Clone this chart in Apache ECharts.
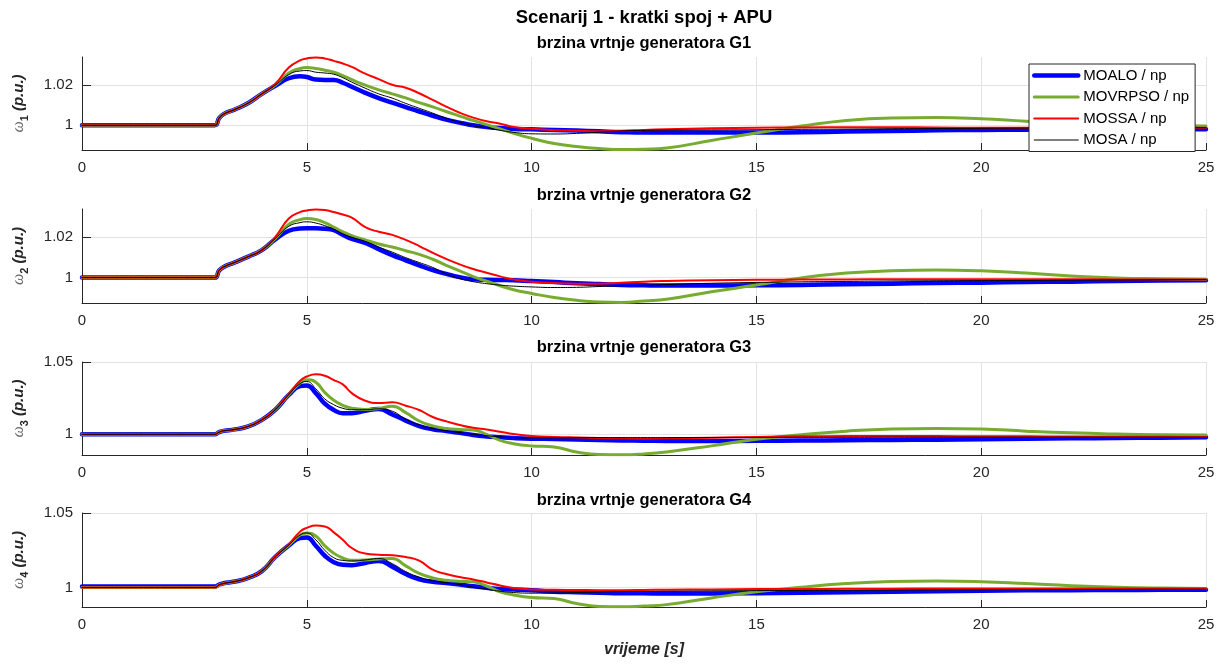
<!DOCTYPE html>
<html>
<head>
<meta charset="utf-8">
<script src="https://cdn.jsdelivr.net/npm/echarts@6/dist/echarts.min.js"></script>
<style>
html,body{margin:0;padding:0;background:#fff;}
#chart{width:1222px;height:664px;}
</style>
</head>
<body>
<div id="chart"></div>
<script>
// ---------------- data ----------------
const time = [0, 2.95, 3.05, 3.15, 3.4, 3.7, 4.0, 4.3, 4.6, 4.85, 5.0, 5.2, 5.4, 5.6, 5.8, 6.0,
  6.3, 6.6, 6.9, 7.2, 7.5, 7.8, 8.1, 8.4, 8.7, 9.0, 9.3, 9.6, 10.0, 10.5, 11, 11.5,
  12, 12.5, 13, 14, 15, 16, 17, 18, 19, 20, 21, 22, 23, 24, 25];

const methods = ['MOALO / np', 'MOVRPSO / np', 'MOSSA / np', 'MOSA / np'];

// Generator G1
const w1_moalo = [1.0,1.0,1.0035,1.0055,1.0078,1.0110,1.0155,1.0195, 1.0232,1.0242,1.0238,1.0226,1.0224,1.0224,1.0210,1.0190,
  1.0160,1.0134,1.0112,1.0090,1.0068,1.0047,1.0028,1.0013, 1.0000,0.9992,0.9986,0.9982,0.9980,0.9977,0.9974,0.9970,
  0.9966,0.9964,0.9964,0.9964,0.9964,0.9966,0.9969,0.9972, 0.9975,0.9977,0.9978,0.9979,0.9980,0.9980,0.9980];
const w1_movrpso = [1.0,1.0,1.0035,1.0055,1.0078,1.0110,1.0155,1.0198, 1.0258,1.0280,1.0285,1.0280,1.0272,1.0262,1.0245,1.0225,
  1.0198,1.0175,1.0155,1.0135,1.0112,1.0091,1.0068,1.0045, 1.0024,1.0003,0.9982,0.9960,0.9936,0.9910,0.9895,0.9885,
  0.9880,0.9882,0.9888,0.9925,0.9962,0.9996,1.0024,1.0036, 1.0038,1.0032,1.0020,1.0010,1.0003,0.9999,0.9997];
const w1_mossa = [1.0,1.0,1.0035,1.0055,1.0078,1.0110,1.0155,1.0205, 1.0285,1.0320,1.0330,1.0335,1.0330,1.0318,1.0305,1.0288,
  1.0255,1.0228,1.0200,1.0185,1.0158,1.0125,1.0092,1.0062, 1.0038,1.0020,1.0008,0.9992,0.9983,0.9976,0.9973,0.9971,
  0.9973,0.9977,0.9980,0.9985,0.9988,0.9989,0.9990,0.9990, 0.9989,0.9988,0.9988,0.9988,0.9988,0.9988,0.9988];
const w1_mosa = [1.0,1.0,1.0035,1.0055,1.0078,1.0110,1.0155,1.0198, 1.0250,1.0268,1.0270,1.0262,1.0258,1.0252,1.0235,1.0213,
  1.0183,1.0155,1.0134,1.0108,1.0084,1.0060,1.0035,1.0015, 0.9998,0.9988,0.9975,0.9965,0.9958,0.9957,0.9960,0.9966,
  0.9972,0.9975,0.9976,0.9977,0.9978,0.9980,0.9981,0.9983, 0.9984,0.9985,0.9986,0.9987,0.9987,0.9988,0.9988];

// Generator G2
const w2_moalo = [1.0,1.0,1.0035,1.0052,1.0075,1.0103,1.0135,1.0188, 1.0230,1.0241,1.0242,1.0242,1.0240,1.0233,1.0210,1.0190,
  1.0170,1.0140,1.0110,1.0085,1.0060,1.0037,1.0018,1.0002, 0.9992,0.9989,0.9988,0.9987,0.9983,0.9978,0.9972,0.9968,
  0.9964,0.9962,0.9961,0.9961,0.9962,0.9964,0.9967,0.9970, 0.9973,0.9975,0.9978,0.9980,0.9983,0.9985,0.9987];
const w2_movrpso = [1.0,1.0,1.0035,1.0052,1.0075,1.0103,1.0135,1.0192, 1.0262,1.0285,1.0290,1.0285,1.0270,1.0248,1.0225,1.0206,
  1.0185,1.0165,1.0150,1.0132,1.0114,1.0090,1.0060,1.0033, 1.0005,0.9982,0.9960,0.9940,0.9922,0.9902,0.9888,0.9880,
  0.9878,0.9885,0.9893,0.9930,0.9963,0.9998,1.0022,1.0034, 1.0037,1.0033,1.0022,1.0008,0.9998,0.9994,0.9992];
const w2_mossa = [1.0,1.0,1.0035,1.0052,1.0075,1.0103,1.0135,1.0200, 1.0290,1.0322,1.0330,1.0335,1.0332,1.0322,1.0310,1.0295,
  1.0248,1.0225,1.0210,1.0185,1.0155,1.0122,1.0092,1.0065, 1.0042,1.0024,1.0006,0.9990,0.9980,0.9973,0.9970,0.9970,
  0.9975,0.9980,0.9983,0.9987,0.9989,0.9990,0.9991,0.9992, 0.9992,0.9992,0.9992,0.9992,0.9991,0.9991,0.9990];
const w2_mosa = [1.0,1.0,1.0035,1.0052,1.0075,1.0103,1.0135,1.0192, 1.0252,1.0270,1.0274,1.0268,1.0255,1.0238,1.0215,1.0198,
  1.0178,1.0150,1.0125,1.0098,1.0074,1.0050,1.0018,0.9995, 0.9980,0.9970,0.9963,0.9958,0.9954,0.9951,0.9952,0.9956,
  0.9960,0.9962,0.9966,0.9972,0.9976,0.9979,0.9981,0.9983, 0.9984,0.9985,0.9986,0.9987,0.9988,0.9989,0.9990];

// Generator G3
const w3_moalo = [1.0,1.0,1.0015,1.0024,1.0034,1.0055,1.0100,1.0170, 1.0272,1.0333,1.0338,1.0285,1.0212,1.0168,1.0146,1.0146,
  1.0162,1.0175,1.0138,1.0095,1.0056,1.0035,1.0023,1.0010, 0.9995,0.9985,0.9979,0.9974,0.9970,0.9968,0.9965,0.9961,
  0.9958,0.9956,0.9954,0.9954,0.9955,0.9957,0.9959,0.9961, 0.9963,0.9966,0.9969,0.9972,0.9975,0.9977,0.9979];
const w3_movrpso = [1.0,1.0,1.0015,1.0024,1.0034,1.0055,1.0100,1.0170, 1.0276,1.0355,1.0378,1.0360,1.0290,1.0235,1.0200,1.0180,
  1.0172,1.0178,1.0194,1.0150,1.0092,1.0058,1.0040,1.0033, 1.0030,1.0000,0.9958,0.9935,0.9920,0.9912,0.9878,0.9860,
  0.9858,0.9864,0.9878,0.9920,0.9966,0.9997,1.0022,1.0037, 1.0041,1.0037,1.0022,1.0010,1.0002,0.9997,0.9995];
const w3_mossa = [1.0,1.0,1.0015,1.0024,1.0034,1.0055,1.0100,1.0172, 1.0280,1.0370,1.0400,1.0415,1.0405,1.0375,1.0345,1.0285,
  1.0232,1.0217,1.0221,1.0198,1.0168,1.0120,1.0090,1.0065, 1.0045,1.0033,1.0018,1.0002,0.9989,0.9982,0.9978,0.9975,
  0.9972,0.9970,0.9972,0.9977,0.9982,0.9986,0.9988,0.9989, 0.9988,0.9987,0.9986,0.9985,0.9984,0.9983,0.9982];
const w3_mosa = [1.0,1.0,1.0015,1.0024,1.0034,1.0055,1.0100,1.0170, 1.0275,1.0350,1.0365,1.0315,1.0245,1.0205,1.0180,1.0170,
  1.0170,1.0176,1.0160,1.0105,1.0065,1.0040,1.0025,1.0012, 1.0000,0.9990,0.9982,0.9977,0.9975,0.9975,0.9976,0.9977,
  0.9977,0.9977,0.9977,0.9978,0.9978,0.9979,0.9979,0.9980, 0.9980,0.9980,0.9980,0.9980,0.9980,0.9980,0.9980];

// Generator G4
const w4_moalo = [1.0006,1.0006,1.0020,1.0028,1.0040,1.0065,1.0110,1.0205, 1.0282,1.0332,1.0336,1.0280,1.0213,1.0170,1.0152,1.0150,
  1.0165,1.0178,1.0140,1.0090,1.0055,1.0038,1.0030,1.0020, 1.0008,0.9998,0.9990,0.9986,0.9982,0.9972,0.9968,0.9965,
  0.9962,0.9961,0.9960,0.9960,0.9962,0.9965,0.9968,0.9971, 0.9975,0.9978,0.9981,0.9982,0.9983,0.9984,0.9985];
const w4_movrpso = [1.0,1.0,1.0018,1.0027,1.0040,1.0065,1.0110,1.0205, 1.0285,1.0352,1.0366,1.0345,1.0280,1.0230,1.0198,1.0183,
  1.0185,1.0191,1.0194,1.0145,1.0095,1.0064,1.0048,1.0042, 1.0038,1.0010,0.9971,0.9950,0.9933,0.9926,0.9892,0.9873,
  0.9870,0.9876,0.9885,0.9930,0.9971,1.0002,1.0026,1.0040, 1.0044,1.0039,1.0026,1.0012,1.0002,0.9996,0.9993];
const w4_mossa = [1.0,1.0,1.0018,1.0027,1.0040,1.0065,1.0110,1.0208, 1.0290,1.0375,1.0400,1.0416,1.0410,1.0370,1.0320,1.0265,
  1.0228,1.0220,1.0217,1.0205,1.0180,1.0120,1.0090,1.0070, 1.0054,1.0034,1.0013,0.9996,0.9987,0.9984,0.9983,0.9982,
  0.9982,0.9983,0.9985,0.9987,0.9989,0.9990,0.9991,0.9992, 0.9993,0.9993,0.9993,0.9993,0.9993,0.9993,0.9993];
const w4_mosa = [1.0,1.0,1.0018,1.0027,1.0040,1.0065,1.0110,1.0205, 1.0285,1.0352,1.0366,1.0320,1.0250,1.0200,1.0182,1.0178,
  1.0185,1.0194,1.0160,1.0107,1.0070,1.0045,1.0032,1.0020, 1.0002,0.9988,0.9975,0.9966,0.9962,0.9963,0.9966,0.9969,
  0.9972,0.9973,0.9975,0.9977,0.9979,0.9980,0.9981,0.9982, 0.9983,0.9984,0.9985,0.9986,0.9987,0.9988,0.9988];

const genData = [
  [w1_moalo, w1_movrpso, w1_mossa, w1_mosa],
  [w2_moalo, w2_movrpso, w2_mossa, w2_mosa],
  [w3_moalo, w3_movrpso, w3_mossa, w3_mosa],
  [w4_moalo, w4_movrpso, w4_mossa, w4_mosa]
];
const subTitles = ['brzina vrtnje generatora G1', 'brzina vrtnje generatora G2',
  'brzina vrtnje generatora G3', 'brzina vrtnje generatora G4'];
const mainTitle = 'Scenarij 1 - kratki spoj + APU';
const xLabel = 'vrijeme [s]';
const yMin = [0.9878, 0.9875, 0.9857, 0.9869];
const yMax = [1.0337, 1.0337, 1.05, 1.05];
const yTicks = [[1, 1.02], [1, 1.02], [1, 1.05], [1, 1.05]];
const xTickStep = 5;

// ---------------- styling ----------------
const colors = ['#0000ff', '#77ac30', '#ff0000', '#000000'];
const widths = [4.5, 3, 2, 1];
const FONT = 'Liberation Sans, Arial, Helvetica, sans-serif';
const AX = '#262626';
const GRIDC = '#e3e3e3';
const gridTops = [57, 209, 362, 513];
const gridHeights = [93, 94, 93, 94];
const subTitleY = [43, 195, 347, 500];

const grids = [], xAxes = [], yAxes = [], series = [], graphics = [];
for (let g = 0; g < 4; g++) {
  grids.push({ left: 82, width: 1124, top: gridTops[g], height: gridHeights[g] });
  xAxes.push({
    type: 'value', gridIndex: g, min: 0, max: 25, interval: xTickStep,
    axisLine: { show: true, lineStyle: { color: AX, width: 1 } },
    axisTick: { show: true, inside: true, length: 7, lineStyle: { color: AX } },
    axisLabel: { color: AX, fontFamily: FONT, fontSize: 15, margin: 10 },
    splitLine: { show: true, lineStyle: { color: GRIDC, width: 1 } }
  });
  yAxes.push({
    type: 'value', gridIndex: g, min: yMin[g], max: yMax[g],
    axisLine: { show: true, lineStyle: { color: AX, width: 1 } },
    axisTick: { show: true, inside: true, length: 9, customValues: yTicks[g], lineStyle: { color: AX } },
    axisLabel: { color: AX, fontFamily: FONT, fontSize: 15, margin: 9, customValues: yTicks[g] },
    splitLine: { show: true, lineStyle: { color: GRIDC, width: 1 } },
    name: '{w|ω}{s|' + (g + 1) + '}{p| (p.u.)}',
    nameLocation: 'middle', nameRotate: 90, nameGap: 52,
    nameTextStyle: {
      color: AX,
      rich: {
        w: { fontFamily: 'Liberation Serif, serif', fontStyle: 'italic', fontSize: 16, color: '#666', lineHeight: 22, verticalAlign: 'middle' },
        s: { fontFamily: FONT, fontWeight: 'bold', fontSize: 11, color: AX, lineHeight: 22, verticalAlign: 'bottom' },
        p: { fontFamily: FONT, fontWeight: 'bold', fontStyle: 'italic', fontSize: 15, color: AX, lineHeight: 22, verticalAlign: 'middle' }
      }
    }
  });
  for (let m = 0; m < 4; m++) {
    const arr = genData[g][m];
    series.push({
      name: methods[m], type: 'line', xAxisIndex: g, yAxisIndex: g,
      data: time.map((t, i) => [t, arr[i]]),
      symbol: 'none', showSymbol: false, smooth: 0.5,
      lineStyle: { color: colors[m], width: widths[m], join: 'round', cap: 'round' },
      itemStyle: { color: colors[m] },
      animation: false, silent: true, clip: true
    });
  }
  graphics.push({
    type: 'text', x: 644, y: subTitleY[g],
    style: { text: subTitles[g], fill: '#000', fontFamily: FONT, fontWeight: 'bold', fontSize: 16.5, align: 'center', verticalAlign: 'middle' }
  });
}
graphics.push({
  type: 'text', x: 644, y: 18,
  style: { text: mainTitle, fill: '#000', fontFamily: FONT, fontWeight: 'bold', fontSize: 18.5, align: 'center', verticalAlign: 'middle' }
});
graphics.push({
  type: 'text', x: 644, y: 650,
  style: { text: xLabel, fill: AX, fontFamily: FONT, fontWeight: 'bold', fontStyle: 'italic', fontSize: 16, align: 'center', verticalAlign: 'middle' }
});

const chart = echarts.init(document.getElementById('chart'), null, { renderer: 'canvas' });
chart.setOption({
  animation: false,
  backgroundColor: '#fff',
  grid: grids,
  xAxis: xAxes,
  yAxis: yAxes,
  legend: {
    orient: 'vertical', left: 1029, top: 64,
    padding: [4, 6, 4, 3], itemWidth: 44, itemHeight: 14, itemGap: 6.5,
    backgroundColor: '#fff', borderColor: AX, borderWidth: 1, borderRadius: 0,
    textStyle: { color: '#000', fontFamily: FONT, fontSize: 15 },
    itemStyle: { opacity: 0 },
    data: methods.map((n, i) => ({ name: n, lineStyle: { width: widths[i], color: colors[i], opacity: 1 }, itemStyle: { opacity: 0 } })),
    selectedMode: false
  },
  graphic: graphics,
  series: series
});
</script>
</body>
</html>
